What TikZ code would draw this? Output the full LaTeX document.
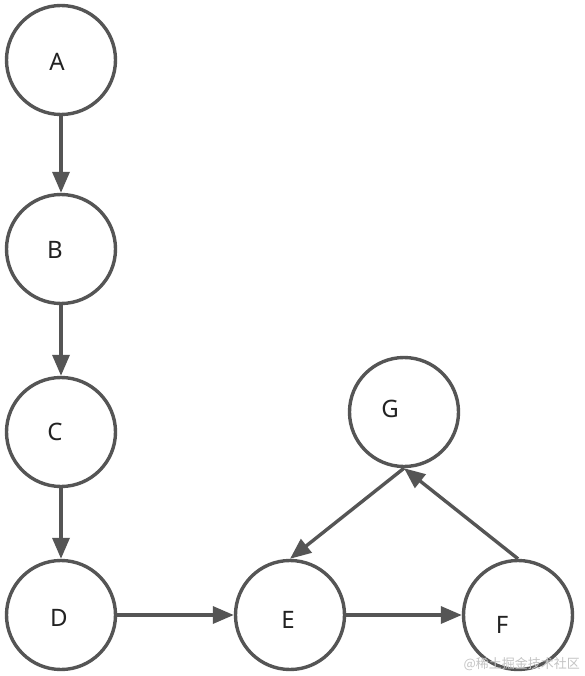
\documentclass[tikz,border=0pt]{standalone}
\usepackage{fontspec}
\setmainfont{Noto Sans}
\newfontfamily\cjk{Noto Sans CJK SC}
\usetikzlibrary{arrows.meta}
\definecolor{edge}{HTML}{555555}
\definecolor{ink}{HTML}{222222}
\definecolor{wm}{HTML}{C4C4C4}
\tikzset{
  circ/.style={circle,draw=edge,line width=3.4pt,minimum size=109pt,inner sep=0pt,fill=white},
  lbl/.style={text=ink,font=\fontsize{24}{24}\selectfont,inner sep=0pt},
  conn/.style={draw=edge,line width=3.4pt,-{Triangle[length=21pt,width=17pt]}},
}
\begin{document}
\begin{tikzpicture}[x=1pt,y=-1pt]
\useasboundingbox (0,0) rectangle (584,676);
\fill[white] (0,0) rectangle (584,676);
\node[circ,label={[lbl,xshift=-4pt,yshift=-2pt]center:A}] (a) at (61,60) {};
\node[circ,label={[lbl,xshift=-6pt,yshift=-1pt]center:B}] (b) at (61,249) {};
\node[circ,label={[lbl,xshift=-6pt]center:C}] (c) at (61,432) {};
\node[circ,label={[lbl,xshift=-2pt,yshift=-3pt]center:D}] (d) at (61,615) {};
\node[circ,label={[lbl,xshift=-2pt,yshift=-5pt]center:E}] (e) at (290,615) {};
\node[circ,label={[lbl,xshift=-16pt,yshift=-10pt]center:F}] (f) at (518,615) {};
\node[circ,label={[lbl,xshift=-14pt,yshift=3pt]center:G}] (g) at (404,412) {};
\draw[conn] (a.south) -- (b.north);
\draw[conn] (b.south) -- (c.north);
\draw[conn] (c.south) -- (d.north);
\draw[conn] (d.east) -- (e.west);
\draw[conn] (e.east) -- (f.west);
\draw[conn] (g.south) -- (e.north);
\draw[conn] (f.north) -- (g.south);
\node[text=wm,font=\cjk\fontsize{13}{13}\selectfont,anchor=east,inner sep=0pt] (wmark) at (580,664) {@稀土掘金技术社区};
\end{tikzpicture}
\end{document}
